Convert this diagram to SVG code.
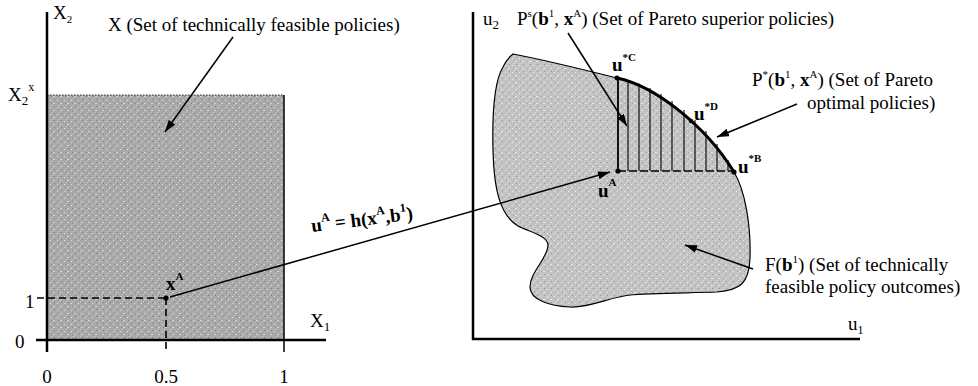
<svg xmlns="http://www.w3.org/2000/svg" width="978" height="386" viewBox="0 0 978 386">
<style>
.t{font-family:"Liberation Serif","Times New Roman",serif;font-size:19px;fill:#000}
.b{font-weight:bold}
.s{font-size:11px}
.ax{stroke:#000;stroke-width:2.5;fill:none}
.ln{stroke:#000;stroke-width:1.5;fill:none}
.dash{stroke:#000;stroke-width:1.6;stroke-dasharray:7,4;fill:none}
.hatch{stroke:#000;stroke-width:1.1}
</style>
<defs>
<pattern id="texA" width="7" height="7" patternUnits="userSpaceOnUse">
<rect width="7" height="7" fill="#a9a9a9"/>
<rect x="1" y="2" width="1" height="1" fill="#e2e2e2"/>
<rect x="4" y="5" width="2" height="1" fill="#d4d4d4"/>
<rect x="5" y="1" width="1" height="1" fill="#7c7c7c"/>
<rect x="2" y="5" width="1" height="1" fill="#868686"/>
<rect x="3" y="0" width="1" height="1" fill="#c8c8c8"/>
</pattern>
<pattern id="texB" width="7" height="7" patternUnits="userSpaceOnUse">
<rect width="7" height="7" fill="#c3c3c3"/>
<rect x="1" y="2" width="1" height="1" fill="#f0f0f0"/>
<rect x="4" y="5" width="2" height="1" fill="#e6e6e6"/>
<rect x="5" y="1" width="1" height="1" fill="#959595"/>
<rect x="2" y="5" width="1" height="1" fill="#a0a0a0"/>
<rect x="3" y="0" width="1" height="1" fill="#dadada"/>
</pattern>
<marker id="arr" viewBox="0 0 12 8" refX="12" refY="4" markerWidth="12" markerHeight="8" markerUnits="userSpaceOnUse" orient="auto">
<path d="M0,0 L12,4 L0,8 Z" fill="#000"/>
</marker>
</defs>
<rect width="978" height="386" fill="#fff"/>

<g id="left-panel">
<g id="set-X">
<rect x="47" y="95" width="237" height="245" fill="url(#texA)"/>
<line x1="47" y1="95" x2="284" y2="95" stroke="#333" stroke-width="1" stroke-dasharray="1.5,1.5"/>
<line x1="284" y1="95" x2="284" y2="352" class="ln" stroke-width="1.8"/>
</g>
<line x1="47" y1="12" x2="47" y2="352" class="ax"/>
<line x1="36" y1="340" x2="326" y2="340" class="ax"/>
<text class="t" x="53" y="19">X<tspan class="s" dy="4" font-size="13">2</tspan></text>
<text class="t" x="8" y="101">X<tspan dy="4" font-size="13">2</tspan><tspan dy="-14" font-size="12">x</tspan></text>
<text class="t" x="25" y="308">1</text>
<text class="t" x="15" y="348">0</text>
<text class="t" x="47" y="383" text-anchor="middle">0</text>
<text class="t" x="166" y="383" text-anchor="middle">0.5</text>
<text class="t" x="284" y="383" text-anchor="middle">1</text>
<text class="t" x="310" y="327">X<tspan dy="4" font-size="13">1</tspan></text>
<text class="t" x="108" y="31">X (Set of technically feasible policies)</text>
<g id="point-xA">
<line x1="37" y1="298" x2="166" y2="298" class="dash"/>
<line x1="166" y1="298" x2="166" y2="352" class="dash"/>
<circle cx="166" cy="298" r="2.6" fill="#000"/>
<text class="t b" x="166" y="290">x<tspan dy="-10" font-size="11">A</tspan></text>
</g>
</g>

<g id="right-panel">
<line x1="473" y1="12" x2="473" y2="340" class="ax"/>
<line x1="472" y1="339" x2="860" y2="339" class="ax"/>
<text class="t" x="483" y="25">u<tspan dy="4" font-size="13">2</tspan></text>
<text class="t" x="848" y="330">u<tspan dy="4" font-size="12">1</tspan></text>
<g id="set-F">
<path d="M513,54 C545,60 585,70 617,78 C655,86 705,125 734,172 C745,190 751,225 750,258 C749,284 740,290 717,292 C690,293 650,293 630,295 C610,297 590,308 570,307 C550,306 530,300 530,287 C530,272 548,258 548,245 C548,236 530,232 518,226 C500,215 494,190 493,150 C492,110 495,80 503,67 C506,61 509,57 513,54 Z" fill="url(#texB)" stroke="#000" stroke-width="1.2"/>
</g>
<g id="pareto-superior">
<g class="hatch">
<line x1="628" y1="171" x2="628" y2="80"/>
<line x1="639" y1="171" x2="639" y2="83.5"/>
<line x1="650" y1="171" x2="650" y2="88"/>
<line x1="661" y1="171" x2="661" y2="94"/>
<line x1="672" y1="171" x2="672" y2="101"/>
<line x1="684" y1="171" x2="684" y2="110"/>
<line x1="695" y1="171" x2="695" y2="120"/>
<line x1="706" y1="171" x2="706" y2="131"/>
<line x1="717" y1="171" x2="717" y2="144"/>
<line x1="728" y1="171" x2="728" y2="160"/>
</g>
<line x1="618" y1="171" x2="734" y2="171" stroke="#000" stroke-width="1.5" stroke-dasharray="8,3"/>
<line x1="618" y1="171" x2="618" y2="78" stroke="#000" stroke-width="1.8"/>
</g>
<g id="pareto-optimal">
<path d="M617,78 C655,86 705,125 734,172" fill="none" stroke="#000" stroke-width="3"/>
</g>
<g id="point-uA">
<circle cx="618" cy="171" r="2.6" fill="#000"/>
<text class="t b" x="598" y="197">u<tspan dy="-11" font-size="11">A</tspan></text>
</g>
<g id="point-uC">
<circle cx="617" cy="78" r="2.4" fill="#000"/>
<text class="t b" x="612" y="71">u<tspan dy="-10" font-size="11">*C</tspan></text>
</g>
<g id="point-uD">
<circle cx="691" cy="121" r="2.2" fill="#000"/>
<text class="t b" x="694" y="120">u<tspan dy="-10" font-size="11">*D</tspan></text>
</g>
<g id="point-uB">
<circle cx="734" cy="172" r="2.6" fill="#000"/>
<text class="t b" x="738" y="173">u<tspan dy="-11" font-size="11">*B</tspan></text>
</g>
<text class="t" x="517" y="25">P<tspan dy="-8" font-size="11">s</tspan><tspan dy="8">(</tspan><tspan class="b">b</tspan><tspan dy="-8" font-size="11">1</tspan><tspan dy="8">, </tspan><tspan class="b">x</tspan><tspan dy="-8" font-size="11">A</tspan><tspan dy="8">) (Set of Pareto superior policies)</tspan></text>
<text class="t" x="752" y="86">P<tspan dy="-8" font-size="11">*</tspan><tspan dy="8">(</tspan><tspan class="b">b</tspan><tspan dy="-8" font-size="11">1</tspan><tspan dy="8">, </tspan><tspan class="b">x</tspan><tspan dy="-8" font-size="11">A</tspan><tspan dy="8">) (Set of Pareto</tspan></text>
<text class="t" x="807" y="109">optimal policies)</text>
<text class="t" x="765" y="271">F(<tspan class="b">b</tspan><tspan dy="-8" font-size="11">1</tspan><tspan dy="8">) (Set of technically</tspan></text>
<text class="t" x="765" y="293">feasible policy outcomes)</text>
</g>

<g id="connectors">
<line x1="233" y1="37" x2="165" y2="132" class="ln" marker-end="url(#arr)"/>
<line x1="170" y1="297" x2="610" y2="172" class="ln" marker-end="url(#arr)"/>
<line x1="568" y1="33" x2="627" y2="126" class="ln" marker-end="url(#arr)"/>
<line x1="797" y1="104" x2="717" y2="137" class="ln" marker-end="url(#arr)"/>
<line x1="753" y1="269" x2="685" y2="245" class="ln" marker-end="url(#arr)"/>
<text class="t b" transform="translate(312,232) rotate(-7)">u<tspan dy="-9" font-size="12">A</tspan><tspan dy="9"> = h(x</tspan><tspan dy="-9" font-size="12">A</tspan><tspan dy="9">,b</tspan><tspan dy="-9" font-size="12">1</tspan><tspan dy="9">)</tspan></text>
</g>
</svg>
